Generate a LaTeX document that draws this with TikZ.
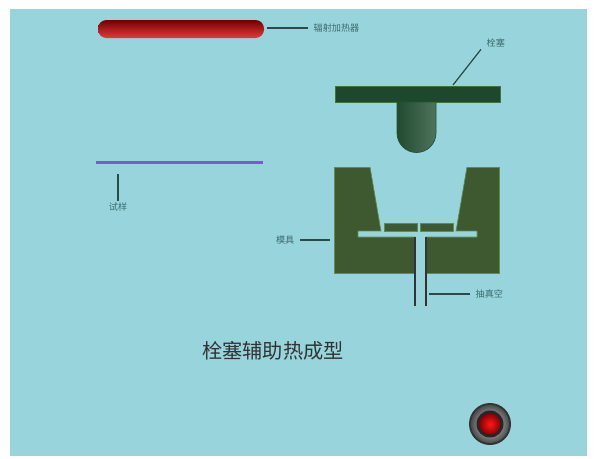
\documentclass[tikz,border=0pt]{standalone}
\usepackage{fontspec}
\newfontfamily\cjk{Noto Sans CJK SC}
\usepackage{tikz}
\usetikzlibrary{positioning}
\usetikzlibrary{calc}

\definecolor{panelbg}{RGB}{152,212,220}
\definecolor{platecol}{RGB}{30,72,44}
\definecolor{stemcol}{RGB}{36,82,52}
\definecolor{moldcol}{RGB}{62,88,48}
\definecolor{moldedge}{RGB}{96,140,76}
\definecolor{sheetcol}{RGB}{118,94,198}
\definecolor{leadcol}{RGB}{44,74,74}
\definecolor{tagtext}{RGB}{60,108,110}

\begin{document}
\begin{tikzpicture}[
                x=0.02cm, y=-0.02cm,
                tag/.style={
                        text=tagtext,
                        inner xsep=3pt,
                        inner ysep=1pt,
                        font=\cjk\fontsize{5.2}{6}\selectfont
                    },
                leader/.style={
                        draw=leadcol,
                        line width=0.7pt
                    },
                tube/.style={
                        draw=black!80,
                        line width=0.9pt
                    }
            ]

            % Panel
            \useasboundingbox (0,0) rectangle (596,458);
            \fill[white] (0,0) rectangle (596,458);
            \fill[panelbg] (10,9) rectangle (587,456);

            % Heater and sheet
            \shade[top color=red!45!black, bottom color=red!75!white!90!black, rounded corners=0.17cm]
                (98,20) rectangle (264,38);
            \draw[sheetcol, line width=0.06cm] (96,162) -- (263,162);

            % Plug
            \fill[platecol, draw=moldedge!60!platecol] (335,86) rectangle (500,102);
            \shade[left color=stemcol!90!black, right color=stemcol!80!white, draw=stemcol]
                (397,102) -- (397,133) arc (180:0:19.5) -- (436,102) -- cycle;

            % Mold with cavity, vent slot and channel
            \fill[moldcol, draw=moldedge] (334,167) rectangle (499,273);
            \fill[panelbg] (370,166.2) -- (381,231) -- (358,231) -- (358,237)
                -- (415,237) -- (415,273.8) -- (426,273.8) -- (426,237) -- (477,237)
                -- (477,231) -- (456,231) -- (467,166.2) -- cycle;
            \draw[moldedge] (370,167) -- (381,231) -- (358,231) -- (358,237) -- (415,237);
            \draw[moldedge] (426,237) -- (477,237) -- (477,231) -- (456,231) -- (467,167);
            \fill[moldcol, draw=moldedge] (384,223) rectangle (417,231);
            \fill[moldcol, draw=moldedge] (420,223) rectangle (453,231);
            \draw[tube] (415,237) -- (415,306);
            \draw[tube] (426,237) -- (426,306);

            % Indicator lamp
            \fill[black!80] (490,424) circle (21);
            \shade[inner color=gray!25, outer color=black!70] (490,424) circle (19);
            \fill[black!85] (490,424) circle (13.5);
            \shade[inner color=red!90!white, outer color=red!55!black] (490,424) circle (10.5);

            % Labels
            \node[tag, anchor=west] (heatertag) at (308,28) {辐射加热器};
            \node[tag, anchor=west] (plugtag) at (481,43) {栓塞};
            \node[tag, anchor=north] (sheettag) at (118,201) {试样};
            \node[tag, anchor=east] (moldtag) at (300,240) {模具};
            \node[tag, anchor=west] (vacuumtag) at (470,294) {抽真空};
            \node[text=black!80, font=\cjk\fontsize{11.5}{13}\selectfont] (title) at (273,351) {栓塞辅助热成型};

            % Leader lines
            \coordinate (heaterend) at (267,28);
            \coordinate (platetop) at (453,85);
            \coordinate (sheettick) at (118,174);
            \coordinate (moldside) at (330,240);
            \coordinate (tubeside) at (429,294);
            \draw[leader, line width=1.4pt] (heaterend) -- (heatertag.west);
            \draw[leader] (platetop) -- (plugtag.south west);
            \draw[leader, line width=1pt] (sheettick) -- (sheettag.north);
            \draw[leader] (moldtag.east) -- (moldside);
            \draw[leader] (tubeside) -- (vacuumtag.west);

        \end{tikzpicture}
\end{document}
